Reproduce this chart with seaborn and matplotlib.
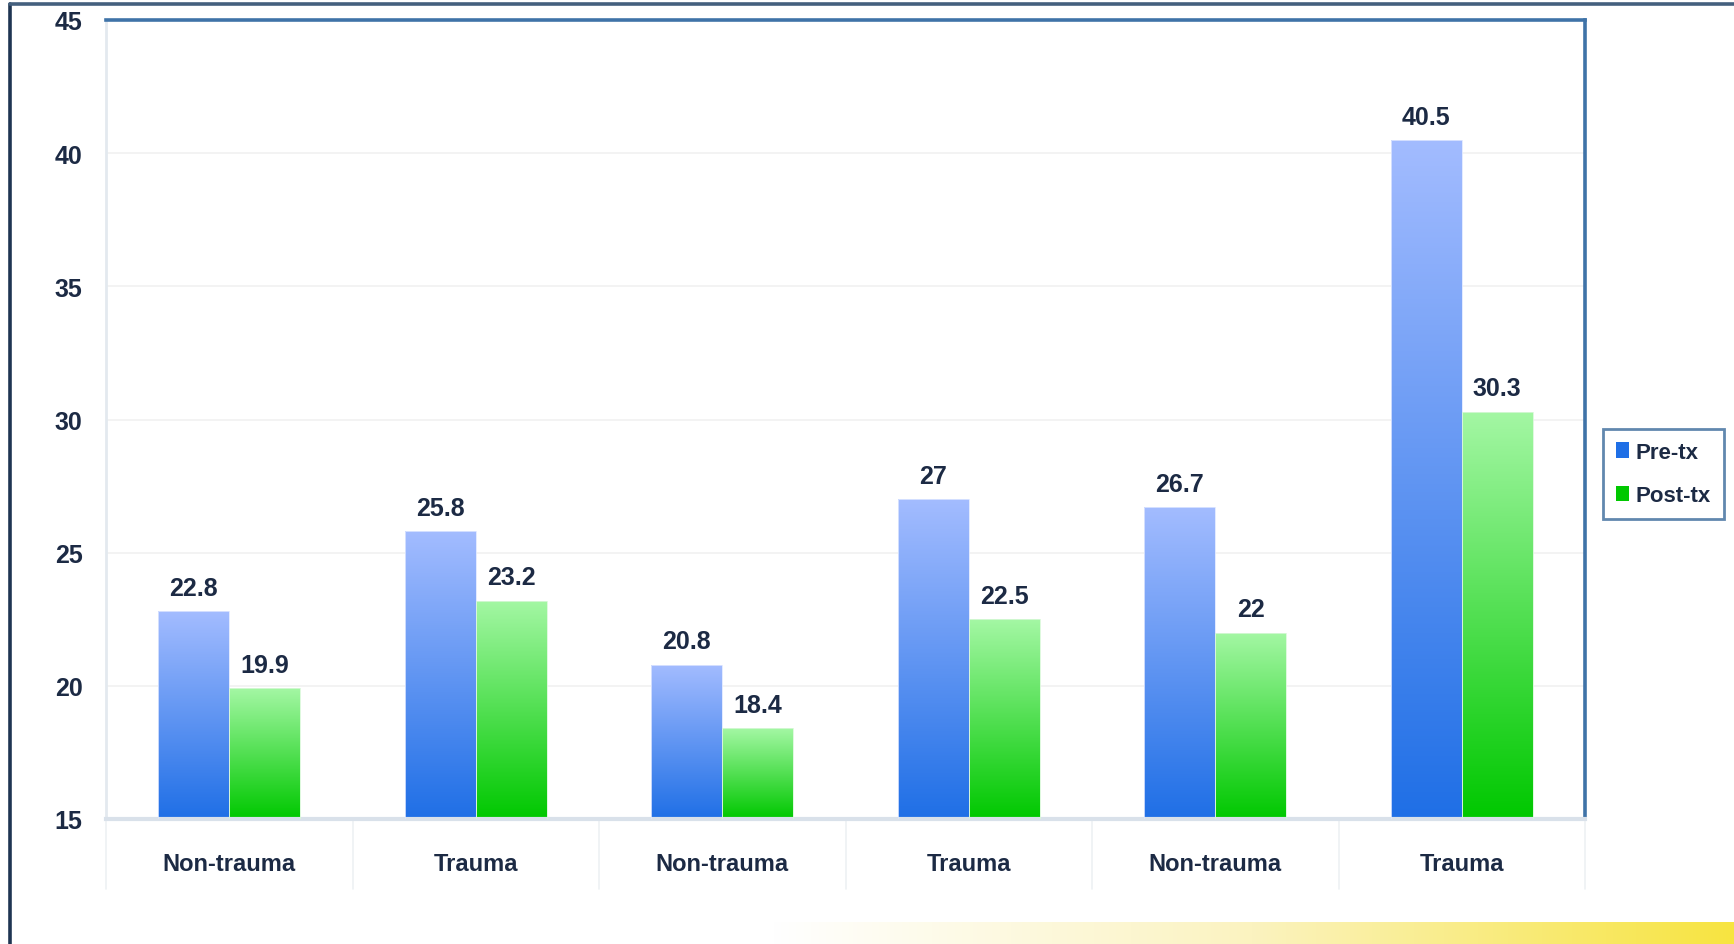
import numpy as np
import pandas as pd
import matplotlib
matplotlib.use("Agg")
import matplotlib.pyplot as plt
import seaborn as sns
from matplotlib.patches import Patch
from matplotlib.lines import Line2D
from matplotlib.colors import LinearSegmentedColormap
import matplotlib.transforms as mtransforms

# ---- data ----
categories = ["Non-trauma", "Trauma", "Non-trauma", "Trauma", "Non-trauma", "Trauma"]
series_names = ["Pre-tx", "Post-tx"]
pre_tx = [22.8, 25.8, 20.8, 27, 26.7, 40.5]
post_tx = [19.9, 23.2, 18.4, 22.5, 22, 30.3]
y_ticks = [15, 20, 25, 30, 35, 40, 45]

slots = [str(i) for i in range(len(categories))]
df = pd.DataFrame({
    "slot": slots * 2,
    "series": [series_names[0]] * len(slots) + [series_names[1]] * len(slots),
    "value": pre_tx + post_tx,
})

TEXT = "#1C2A44"
FONT = "Liberation Sans"
grad = {
    "Pre-tx": ("#A3BCFF", "#1F6FE6"),
    "Post-tx": ("#A4F7A4", "#00C800"),
}

sns.set_theme(style="white")
plt.rcParams["font.family"] = [FONT, "DejaVu Sans"]

fig = plt.figure(figsize=(17.34, 9.45), dpi=100)
ax = fig.add_axes([106 / 1734, 1 - 820 / 945, (1585 - 106) / 1734, (820 - 21) / 945])

sns.barplot(data=df, x="slot", y="value", hue="series", order=slots,
            hue_order=series_names, palette=[grad[s][1] for s in series_names],
            width=0.575, legend=False, ax=ax, saturation=1)

ax.set_ylim(15, 45)
ax.set_xlim(-0.5, len(slots) - 0.5)
ax.set_yticks(y_ticks)
ax.set_yticklabels([str(t) for t in y_ticks])
ax.set_xticks(range(len(slots)))
ax.set_xticklabels(categories)
ax.set_xlabel("")
ax.set_ylabel("")
ax.tick_params(axis="both", length=0, labelcolor=TEXT)
ax.tick_params(axis="y", pad=17, labelsize=18)
ax.tick_params(axis="x", pad=24, labelsize=17)
for lab in ax.get_xticklabels() + ax.get_yticklabels():
    lab.set_fontweight("bold")

# grid
ax.yaxis.grid(True, color="#F1F1F1", lw=1.2)
ax.set_axisbelow(True)

# spines
for s in ["top", "right"]:
    ax.spines[s].set_color("#3F73A8")
    ax.spines[s].set_linewidth(2.6)
ax.spines["left"].set_color("#E3E9EF")
ax.spines["left"].set_linewidth(2)
ax.spines["bottom"].set_color("#D9E1EA")
ax.spines["bottom"].set_linewidth(3)

# gradient fill of bars
for container, sname in zip(ax.containers, series_names):
    top_c, bot_c = grad[sname]
    cmap = LinearSegmentedColormap.from_list(sname, [bot_c, top_c])
    for bar in container:
        x0, y0 = bar.get_x(), bar.get_y()
        w, h = bar.get_width(), bar.get_height()
        g = np.linspace(0, 1, 256).reshape(-1, 1)
        im = ax.imshow(g, cmap=cmap, aspect="auto", origin="lower",
                       extent=[x0, x0 + w, max(y0, 15), y0 + h], zorder=2)
        im.set_clip_path(bar)
        bar.set_facecolor("none")
        bar.set_edgecolor("#DDE6FF" if sname == "Pre-tx" else "#D8F8D8")
        bar.set_linewidth(0.6)
        bar.set_zorder(3)
    ax.bar_label(container, labels=[f"{v:g}" for v in container.datavalues],
                 padding=8, fontsize=18, fontweight="bold", color=TEXT)

ax.set_xlim(-0.5, len(slots) - 0.5)
ax.set_ylim(15, 45)

# category separators below the axis
trans = mtransforms.blended_transform_factory(ax.transData, ax.transAxes)
for xb in np.arange(-0.5, len(slots) + 0.5, 1.0):
    ax.add_line(Line2D([xb, xb], [0, -70 / 799], transform=trans, color="#EEF1F4",
                       lw=1.2, clip_on=False))

# legend
handles = [Patch(facecolor=grad[s][1], edgecolor="none") for s in series_names]
leg = fig.legend(handles, series_names, loc="center left",
                 bbox_to_anchor=(1603 / 1734, 1 - 475 / 945),
                 frameon=True, fancybox=False, handlelength=0.55, handleheight=0.7,
                 handletextpad=0.3, labelspacing=1.0, borderpad=0.6, borderaxespad=0,
                 prop={"weight": "bold", "size": 16})
leg.get_frame().set_edgecolor("#3A6A9A")
leg.get_frame().set_linewidth(2)
for t in leg.get_texts():
    t.set_color(TEXT)

# outer frame lines
fig.add_artist(Line2D([10 / 1734, 10 / 1734], [0, 1 - 5 / 945], transform=fig.transFigure,
                      color="#1F3552", lw=2.6))
fig.add_artist(Line2D([10 / 1734, 1], [1 - 5 / 945, 1 - 5 / 945], transform=fig.transFigure,
                      color="#44607E", lw=2.6))

# decorative yellow band at bottom
band = fig.add_axes([770 / 1734, 0, 1 - 770 / 1734, 22 / 945])
bcmap = LinearSegmentedColormap.from_list("band", ["#FFFFFF", "#FBF3C0", "#F7E440"])
band.imshow(np.linspace(0, 1, 256).reshape(1, -1), cmap=bcmap, aspect="auto")
band.set_axis_off()

fig.savefig("out.png", dpi=100)
